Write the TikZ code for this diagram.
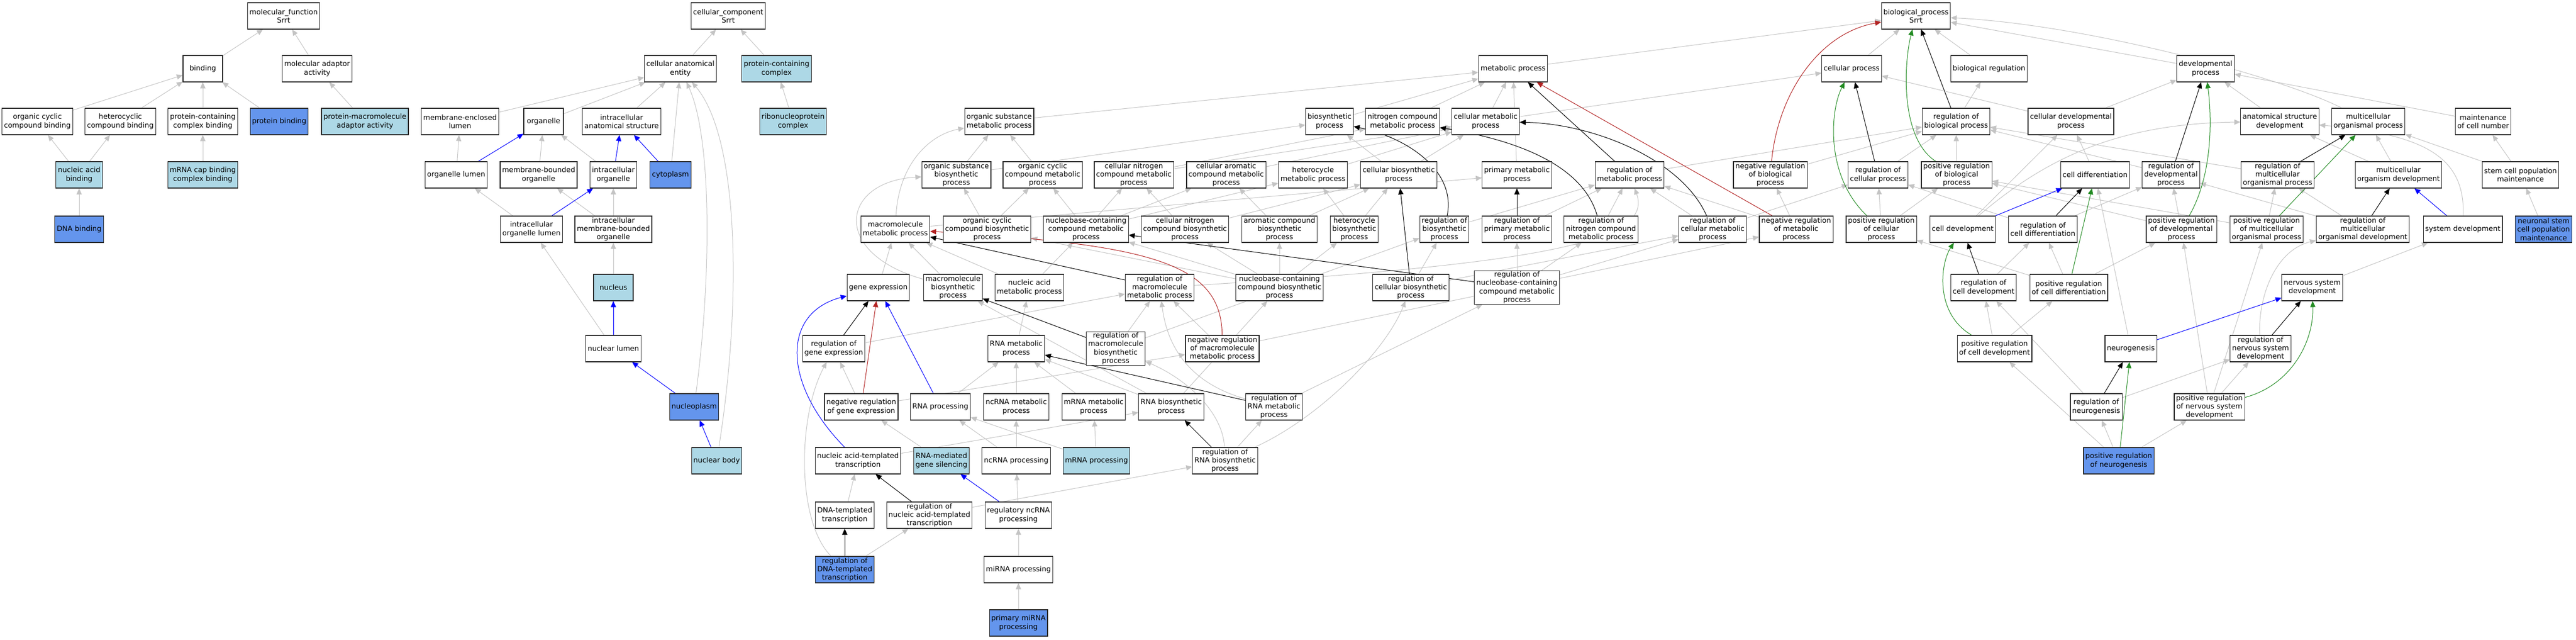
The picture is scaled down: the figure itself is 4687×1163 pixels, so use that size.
\documentclass[tikz,border=0pt]{standalone}
\usepackage{fontspec}
\setmainfont{DejaVu Sans}
\usetikzlibrary{arrows.meta,backgrounds}
\definecolor{lb}{HTML}{ADD8E6}
\definecolor{cb}{HTML}{6495ED}
\definecolor{eg}{HTML}{C4C4C4}
\definecolor{fb}{HTML}{B22222}
\definecolor{fg}{HTML}{228B22}
\begin{document}
\begin{tikzpicture}[x=1pt,y=-1pt,
        term/.style={draw=black!85,line width=1.1pt,fill=white,align=center,
            minimum width=72pt,minimum height=48pt,inner xsep=3.5pt,inner ysep=1pt,
            font=\fontsize{13pt}{15.3pt}\selectfont},
        lite/.style={term,fill=lb},
        dark/.style={term,fill=cb},
        isa/.style={draw=eg,line width=1pt,-{Triangle[length=11pt,width=9.5pt]}},
        kedge/.style={isa,draw=black},
        redge/.style={isa,draw=fb},
        gedge/.style={isa,draw=fg},
        bedge/.style={isa,draw=blue}]
    \useasboundingbox (0,0) rectangle (4687,1163);

    % molecular function
    \node[term] (mf)   at ( 516, 29) {molecular\_function\\Srrt};
    \node[term] (bind) at ( 369,125) {binding};
    \node[term] (maa)  at ( 577,125) {molecular adaptor\\activity};
    \node[term] (occb) at (  68,221) {organic cyclic\\compound binding};
    \node[term] (hcb)  at ( 219,221) {heterocyclic\\compound binding};
    \node[term] (pccb) at ( 369,221) {protein-containing\\complex binding};
    \node[dark] (pb)   at ( 508,221) {protein binding};
    \node[lite] (pmaa) at ( 664,221) {protein-macromolecule\\adaptor activity};
    \node[lite] (nab)  at ( 144,318) {nucleic acid\\binding};
    \node[lite] (mcb)  at ( 369,318) {mRNA cap binding\\complex binding};
    \node[dark] (dnab) at ( 144,417) {DNA binding};

    % cellular component
    \node[term] (cc)   at (1325, 29) {cellular\_component\\Srrt};
    \node[term] (cae)  at (1238,125) {cellular anatomical\\entity};
    \node[lite] (pcc)  at (1413,125) {protein-containing\\complex};
    \node[term] (mel)  at ( 837,221) {membrane-enclosed\\lumen};
    \node[term] (org)  at ( 989,221) {organelle};
    \node[term] (ias)  at (1131,221) {intracellular\\anatomical structure};
    \node[lite] (rnpc) at (1443,221) {ribonucleoprotein\\complex};
    \node[term] (orgl) at ( 830,318) {organelle lumen};
    \node[term] (mbo)  at ( 980,318) {membrane-bounded\\organelle};
    \node[term] (io)   at (1116,318) {intracellular\\organelle};
    \node[dark] (cyto) at (1220,318) {cytoplasm};
    \node[term] (iol)  at ( 967,417) {intracellular\\organelle lumen};
    \node[term] (imbo) at (1116,417) {intracellular\\membrane-bounded\\organelle};
    \node[lite] (nuc)  at (1116,523) {nucleus};
    \node[term] (nl)   at (1116,634) {nuclear lumen};
    \node[dark] (npl)  at (1263,740) {nucleoplasm};
    \node[lite] (nb)   at (1304,838) {nuclear body};

    % biological process
    \node[term] (bp)     at (3486, 29) {biological\_process\\Srrt};
    \node[term] (mp)     at (2753,125) {metabolic process};
    \node[term] (cp)     at (3369,125) {cellular process};
    \node[term] (breg)   at (3619,125) {biological regulation};
    \node[term] (dp)     at (4013,125) {developmental\\process};
    \node[term] (osmp)   at (1818,221) {organic substance\\metabolic process};
    \node[term] (bsp)    at (2419,221) {biosynthetic\\process};
    \node[term] (ncmp)   at (2552,221) {nitrogen compound\\metabolic process};
    \node[term] (cmp)    at (2703,221) {cellular metabolic\\process};
    \node[term] (rbiop)  at (3559,221) {regulation of\\biological process};
    \node[term] (cdp)    at (3768,221) {cellular developmental\\process};
    \node[term] (asd)    at (4148,221) {anatomical structure\\development};
    \node[term] (mop)    at (4309,221) {multicellular\\organismal process};
    \node[term] (mcn)    at (4518,221) {maintenance\\of cell number};
    \node[term] (osbp)   at (1740,318) {organic substance\\biosynthetic\\process};
    \node[term] (occmp)  at (1897,318) {organic cyclic\\compound metabolic\\process};
    \node[term] (cncmp)  at (2063,318) {cellular nitrogen\\compound metabolic\\process};
    \node[term] (cacmp)  at (2231,318) {cellular aromatic\\compound metabolic\\process};
    \node[term] (hmp)    at (2389,318) {heterocycle\\metabolic process};
    \node[term] (cbp)    at (2545,318) {cellular biosynthetic\\process};
    \node[term] (pmp)    at (2760,318) {primary metabolic\\process};
    \node[term] (rmp)    at (2965,318) {regulation of\\metabolic process};
    \node[term] (nrbiop) at (3221,318) {negative regulation\\of biological\\process};
    \node[term] (rcp)    at (3417,318) {regulation of\\cellular process};
    \node[term] (prbiop) at (3560,318) {positive regulation\\of biological\\process};
    \node[term] (cdiff)  at (3812,318) {cell differentiation};
    \node[term] (rdp)    at (3950,318) {regulation of\\developmental\\process};
    \node[term] (rmop)   at (4144,318) {regulation of\\multicellular\\organismal process};
    \node[term] (mod)    at (4364,318) {multicellular\\organism development};
    \node[term] (scpm)   at (4586,318) {stem cell population\\maintenance};
    \node[term] (mmp)    at (1629,417) {macromolecule\\metabolic process};
    \node[term] (occbp)  at (1796,417) {organic cyclic\\compound biosynthetic\\process};
    \node[term] (nbcmp)  at (1976,417) {nucleobase-containing\\compound metabolic\\process};
    \node[term] (cncbp)  at (2156,417) {cellular nitrogen\\compound biosynthetic\\process};
    \node[term] (acbp)   at (2328,417) {aromatic compound\\biosynthetic\\process};
    \node[term] (hbp)    at (2464,417) {heterocycle\\biosynthetic\\process};
    \node[term] (rbp)    at (2628,417) {regulation of\\biosynthetic\\process};
    \node[term] (rpmp)   at (2760,417) {regulation of\\primary metabolic\\process};
    \node[term] (rncmp)  at (2913,417) {regulation of\\nitrogen compound\\metabolic process};
    \node[term] (rcmp)   at (3116,417) {regulation of\\cellular metabolic\\process};
    \node[term] (nrmp)   at (3268,417) {negative regulation\\of metabolic\\process};
    \node[term] (prcp)   at (3423,417) {positive regulation\\of cellular\\process};
    \node[term] (cdev)   at (3571,417) {cell development};
    \node[term] (rcdiff) at (3717,417) {regulation of\\cell differentiation};
    \node[term] (prdp)   at (3969,417) {positive regulation\\of developmental\\process};
    \node[term] (prmop)  at (4124,417) {positive regulation\\of multicellular\\organismal process};
    \node[term] (rmod)   at (4299,417) {regulation of\\multicellular\\organismal development};
    \node[term] (sysd)   at (4481,417) {system development};
    \node[dark] (nscpm)  at (4628,417) {neuronal stem\\cell population\\maintenance};
    \node[term] (ge)     at (1598,523) {gene expression};
    \node[term] (mbp)    at (1734,523) {macromolecule\\biosynthetic\\process};
    \node[term] (namp)   at (1873,523) {nucleic acid\\metabolic process};
    \node[term] (rmmp)   at (2110,523) {regulation of\\macromolecule\\metabolic process};
    \node[term] (nbcbp)  at (2328,523) {nucleobase-containing\\compound biosynthetic\\process};
    \node[term] (rcbp)   at (2567,523) {regulation of\\cellular biosynthetic\\process};
    \node[term] (rnbcmp) at (2760,523) {regulation of\\nucleobase-containing\\compound metabolic\\process};
    \node[term] (rcdev)  at (3609,523) {regulation of\\cell development};
    \node[term] (prcdiff) at (3764,523) {positive regulation\\of cell differentiation};
    \node[term] (nsd)    at (4207,523) {nervous system\\development};
    \node[term] (rge)    at (1517,634) {regulation of\\gene expression};
    \node[term] (rnamp)  at (1849,634) {RNA metabolic\\process};
    \node[term] (rmbp)   at (2030,634) {regulation of\\macromolecule\\biosynthetic\\process};
    \node[term] (nrmmp)  at (2224,634) {negative regulation\\of macromolecule\\metabolic process};
    \node[term] (prcdev) at (3629,634) {positive regulation\\of cell development};
    \node[term] (neuro)  at (3877,634) {neurogenesis};
    \node[term] (rnsd)   at (4113,634) {regulation of\\nervous system\\development};
    \node[term] (nrge)   at (1567,740) {negative regulation\\of gene expression};
    \node[term] (rnap)   at (1711,740) {RNA processing};
    \node[term] (ncrmp)  at (1849,740) {ncRNA metabolic\\process};
    \node[term] (mrmp)   at (1990,740) {mRNA metabolic\\process};
    \node[term] (rbsp)   at (2131,740) {RNA biosynthetic\\process};
    \node[term] (rrmp)   at (2318,740) {regulation of\\RNA metabolic\\process};
    \node[term] (rneuro) at (3814,740) {regulation of\\neurogenesis};
    \node[term] (prnsd)  at (4020,740) {positive regulation\\of nervous system\\development};
    \node[term] (nat)    at (1561,838) {nucleic acid-templated\\transcription};
    \node[lite] (rmgs)   at (1713,838) {RNA-mediated\\gene silencing};
    \node[term] (ncrp)   at (1849,838) {ncRNA processing};
    \node[lite] (mrp)    at (1995,838) {mRNA processing};
    \node[term] (rrbp)   at (2229,838) {regulation of\\RNA biosynthetic\\process};
    \node[dark] (prneuro) at (3855,838) {positive regulation\\of neurogenesis};
    \node[term] (dtt)    at (1537,937) {DNA-templated\\transcription};
    \node[term] (rnat)   at (1691,937) {regulation of\\nucleic acid-templated\\transcription};
    \node[term] (rncrp)  at (1853,937) {regulatory ncRNA\\processing};
    \node[dark] (rdtt)   at (1537,1036) {regulation of\\DNA-templated\\transcription};
    \node[term] (mirp)   at (1853,1036) {miRNA processing};
    \node[dark] (pmirp)  at (1853,1133) {primary miRNA\\processing};

    \begin{scope}[on background layer]
    % molecular function
    \draw[isa] (bind) -- (mf);
    \draw[isa] (maa) -- (mf);
    \draw[isa] (occb) -- (bind);
    \draw[isa] (hcb) -- (bind);
    \draw[isa] (pccb) -- (bind);
    \draw[isa] (pb) -- (bind);
    \draw[isa] (pmaa) -- (maa);
    \draw[isa] (nab) -- (occb);
    \draw[isa] (nab) -- (hcb);
    \draw[isa] (mcb) -- (pccb);
    \draw[isa] (dnab) -- (nab);

    % cellular component
    \draw[isa] (cae) -- (cc);
    \draw[isa] (pcc) -- (cc);
    \draw[isa] (mel) -- (cae);
    \draw[isa] (org) -- (cae);
    \draw[isa] (ias) -- (cae);
    \draw[isa] (cyto) -- (cae);
    \draw[isa] (npl) .. controls (1295,500) and (1295,250) .. (cae);
    \draw[isa] (nb) .. controls (1350,550) and (1345,250) .. (cae);
    \draw[isa] (rnpc) -- (pcc);
    \draw[isa] (orgl) -- (mel);
    \draw[isa] (mbo) -- (org);
    \draw[isa] (io) -- (org);
    \draw[isa] (iol) -- (orgl);
    \draw[isa] (imbo) -- (mbo);
    \draw[isa] (imbo) -- (io);
    \draw[isa] (nuc) -- (imbo);
    \draw[isa] (nl) -- (iol);
    \draw[bedge] (orgl) -- (org);
    \draw[bedge] (io) -- (ias);
    \draw[bedge] (cyto) -- (ias);
    \draw[bedge] (iol) -- (io);
    \draw[bedge] (nl) -- (nuc);
    \draw[bedge] (npl) -- (nl);
    \draw[bedge] (nb) -- (npl);

    % biological process
    \draw[isa] (mp) -- (bp);
    \draw[isa] (cp) -- (bp);
    \draw[isa] (breg) -- (bp);
    \draw[isa] (dp) -- (bp);
    \draw[isa] (mop) .. controls (4150,140) and (3800,45) .. (bp);
    \draw[isa] (rbiop) -- (breg);
    \draw[isa] (prbiop) -- (rbiop);
    \draw[isa] (nrbiop) -- (rbiop);
    \draw[isa] (rcp) -- (rbiop);
    \draw[isa] (rmp) -- (rbiop);
    \draw[isa] (rdp) -- (rbiop);
    \draw[isa] (rmop) -- (rbiop);
    \draw[isa] (cmp) -- (cp);
    \draw[isa] (cdp) -- (cp);
    \draw[isa] (cdp) -- (dp);
    \draw[isa] (cdiff) -- (cdp);
    \draw[isa] (cdev) -- (cdp);
    \draw[isa] (cdev) .. controls (3720,290) and (3850,225) .. (asd);
    \draw[isa] (rcdiff) -- (rcp);
    \draw[isa] (rcdiff) -- (rdp);
    \draw[isa] (prcp) -- (rcp);
    \draw[isa] (prcp) -- (prbiop);
    \draw[isa] (prcdiff) -- (rcdiff);
    \draw[isa] (prcdiff) -- (prcp);
    \draw[isa] (prcdiff) -- (prdp);
    \draw[isa] (rcdev) -- (rcdiff);
    \draw[isa] (prcdev) -- (rcdev);
    \draw[isa] (prcdev) -- (prcdiff);
    \draw[isa] (neuro) -- (cdiff);
    \draw[isa] (rneuro) -- (rcdev);
    \draw[isa] (rneuro) -- (rnsd);
    \draw[isa] (prneuro) -- (rneuro);
    \draw[isa] (prneuro) -- (prcdev);
    \draw[isa] (prneuro) -- (prnsd);
    \draw[isa] (prdp) -- (rdp);
    \draw[isa] (prdp) -- (prbiop);
    \draw[isa] (asd) -- (dp);
    \draw[isa] (mcn) -- (dp);
    \draw[isa] (prmop) -- (rmop);
    \draw[isa] (prmop) -- (prbiop);
    \draw[isa] (mod) -- (asd);
    \draw[isa] (mod) -- (mop);
    \draw[isa] (rmod) -- (rmop);
    \draw[isa] (rmod) -- (rdp);
    \draw[isa] (sysd) .. controls (4485,290) and (4420,245) .. (asd);
    \draw[isa] (scpm) -- (mcn);
    \draw[isa] (scpm) -- (mop);
    \draw[isa] (nscpm) -- (scpm);
    \draw[isa] (nsd) -- (sysd);
    \draw[isa] (rnsd) .. controls (4108,540) and (4140,455) .. (rmod);
    \draw[isa] (prnsd) -- (rnsd);
    \draw[isa] (prnsd) -- (prdp);
    \draw[isa] (prnsd) -- (prmop);
    \draw[isa] (nrmp) -- (nrbiop);
    \draw[isa] (nrmp) -- (rmp);
    \draw[isa] (rcmp) -- (rmp);
    \draw[isa] (rcmp) -- (rcp);
    \draw[kedge] (rbiop) -- (bp);
    \draw[kedge] (rcp) -- (cp);
    \draw[kedge] (rcdiff) -- (cdiff);
    \draw[kedge] (rcdev) -- (cdev);
    \draw[kedge] (rneuro) -- (neuro);
    \draw[kedge] (rdp) -- (dp);
    \draw[kedge] (rmop) -- (mop);
    \draw[kedge] (rmod) -- (mod);
    \draw[kedge] (rnsd) -- (nsd);
    \draw[kedge] (rmp) -- (mp);
    \draw[gedge] (prbiop) .. controls (3455,250) and (3465,110) .. (bp);
    \draw[gedge] (prcp) .. controls (3320,320) and (3330,200) .. (cp);
    \draw[gedge] (prcdiff) -- (cdiff);
    \draw[gedge] (prcdev) .. controls (3520,570) and (3530,480) .. (cdev);
    \draw[gedge] (prneuro) -- (neuro);
    \draw[gedge] (prdp) .. controls (4025,320) and (4025,220) .. (dp);
    \draw[gedge] (prmop) -- (mop);
    \draw[gedge] (prnsd) .. controls (4170,700) and (4210,620) .. (nsd);
    \draw[redge] (nrbiop) .. controls (3235,170) and (3310,60) .. (bp);
    \draw[redge] (nrmp) -- (mp);
    \draw[bedge] (cdev) -- (cdiff);
    \draw[bedge] (neuro) -- (nsd);
    \draw[bedge] (sysd) -- (mod);

    % metabolism
    \draw[isa] (osmp) -- (mp);
    \draw[isa] (bsp) -- (mp);
    \draw[isa] (ncmp) -- (mp);
    \draw[isa] (cmp) -- (mp);
    \draw[isa] (pmp) -- (mp);
    \draw[isa] (osbp) -- (osmp);
    \draw[isa] (osbp) -- (bsp);
    \draw[isa] (occmp) -- (osmp);
    \draw[isa] (mmp) .. controls (1635,300) and (1690,245) .. (osmp);
    \draw[isa] (mmp) -- (pmp);
    \draw[isa] (cncmp) -- (ncmp);
    \draw[isa] (cncmp) -- (cmp);
    \draw[isa] (cacmp) -- (cmp);
    \draw[isa] (hmp) -- (cmp);
    \draw[isa] (cbp) -- (bsp);
    \draw[isa] (cbp) -- (cmp);
    \draw[isa] (occbp) -- (osbp);
    \draw[isa] (occbp) -- (occmp);
    \draw[isa] (nbcmp) -- (occmp);
    \draw[isa] (nbcmp) -- (cncmp);
    \draw[isa] (nbcmp) -- (cacmp);
    \draw[isa] (nbcmp) -- (hmp);
    \draw[isa] (cncbp) -- (cncmp);
    \draw[isa] (cncbp) -- (cbp);
    \draw[isa] (acbp) -- (cacmp);
    \draw[isa] (acbp) -- (cbp);
    \draw[isa] (hbp) -- (hmp);
    \draw[isa] (hbp) -- (cbp);
    \draw[isa] (rbp) -- (rmp);
    \draw[isa] (rpmp) -- (rmp);
    \draw[isa] (rncmp) -- (rmp);
    \draw[isa] (ge) -- (mmp);
    \draw[isa] (mbp) -- (mmp);
    \draw[isa] (mbp) .. controls (1510,460) and (1530,330) .. (osbp);
    \draw[isa] (namp) -- (mmp);
    \draw[isa] (namp) -- (nbcmp);
    \draw[isa] (rmmp) .. controls (2800,480) and (3010,440) .. (rmp);
    \draw[isa] (nbcbp) -- (nbcmp);
    \draw[isa] (nbcbp) -- (cncbp);
    \draw[isa] (nbcbp) -- (acbp);
    \draw[isa] (nbcbp) -- (hbp);
    \draw[isa] (nbcbp) -- (occbp);
    \draw[isa] (rcbp) -- (rbp);
    \draw[isa] (rcbp) -- (rcmp);
    \draw[isa] (rnbcmp) -- (rpmp);
    \draw[isa] (rnbcmp) -- (rncmp);
    \draw[isa] (rnbcmp) -- (rcmp);
    \draw[isa] (rge) -- (rmmp);
    \draw[isa] (rnamp) -- (namp);
    \draw[isa] (rmbp) -- (rmmp);
    \draw[isa] (rmbp) -- (rbp);
    \draw[isa] (nrmmp) -- (rmmp);
    \draw[isa] (nrmmp) -- (nrmp);
    \draw[isa] (nrge) -- (rge);
    \draw[isa] (nrge) -- (nrmmp);
    \draw[isa] (rnap) -- (rnamp);
    \draw[isa] (ncrmp) -- (rnamp);
    \draw[isa] (mrmp) -- (rnamp);
    \draw[isa] (rbsp) -- (rnamp);
    \draw[isa] (rbsp) -- (mbp);
    \draw[isa] (rbsp) -- (nbcbp);
    \draw[isa] (rrmp) .. controls (2140,690) and (2120,600) .. (rmmp);
    \draw[isa] (rrmp) -- (rnbcmp);
    \draw[isa] (nat) -- (rbsp);
    \draw[isa] (rmgs) -- (nrge);
    \draw[isa] (ncrp) -- (rnap);
    \draw[isa] (ncrp) -- (ncrmp);
    \draw[isa] (mrp) -- (rnap);
    \draw[isa] (mrp) -- (mrmp);
    \draw[isa] (rrbp) -- (rrmp);
    \draw[isa] (rrbp) .. controls (2400,760) and (2520,640) .. (rcbp);
    \draw[isa] (rrbp) .. controls (2225,750) and (2160,690) .. (rmbp);
    \draw[isa] (dtt) -- (nat);
    \draw[isa] (rnat) -- (rrbp);
    \draw[isa] (rdtt) -- (rnat);
    \draw[isa] (rdtt) .. controls (1450,950) and (1450,760) .. (rge);
    \draw[isa] (rncrp) -- (ncrp);
    \draw[isa] (mirp) -- (rncrp);
    \draw[isa] (pmirp) -- (mirp);
    \draw[kedge] (rbp) .. controls (2650,310) and (2560,250) .. (bsp);
    \draw[kedge] (rpmp) -- (pmp);
    \draw[kedge] (rncmp) .. controls (2880,300) and (2760,255) .. (ncmp);
    \draw[kedge] (rcmp) .. controls (3060,290) and (2900,225) .. (cmp);
    \draw[kedge] (rcbp) -- (cbp);
    \draw[kedge] (rnbcmp) -- (nbcmp);
    \draw[kedge] (rmmp) -- (mmp);
    \draw[kedge] (rge) -- (ge);
    \draw[kedge] (rmbp) -- (mbp);
    \draw[kedge] (rrmp) -- (rnamp);
    \draw[kedge] (rrbp) -- (rbsp);
    \draw[kedge] (rnat) -- (nat);
    \draw[kedge] (rdtt) -- (dtt);
    \draw[redge] (nrmmp) .. controls (2222,480) and (2100,445) .. (mmp);
    \draw[redge] (nrge) -- (ge);
    \draw[bedge] (rnap) -- (ge);
    \draw[bedge] (nat) .. controls (1425,700) and (1420,570) .. (ge);
    \draw[bedge] (rncrp) -- (rmgs);
    \end{scope}

\end{tikzpicture}
\end{document}
